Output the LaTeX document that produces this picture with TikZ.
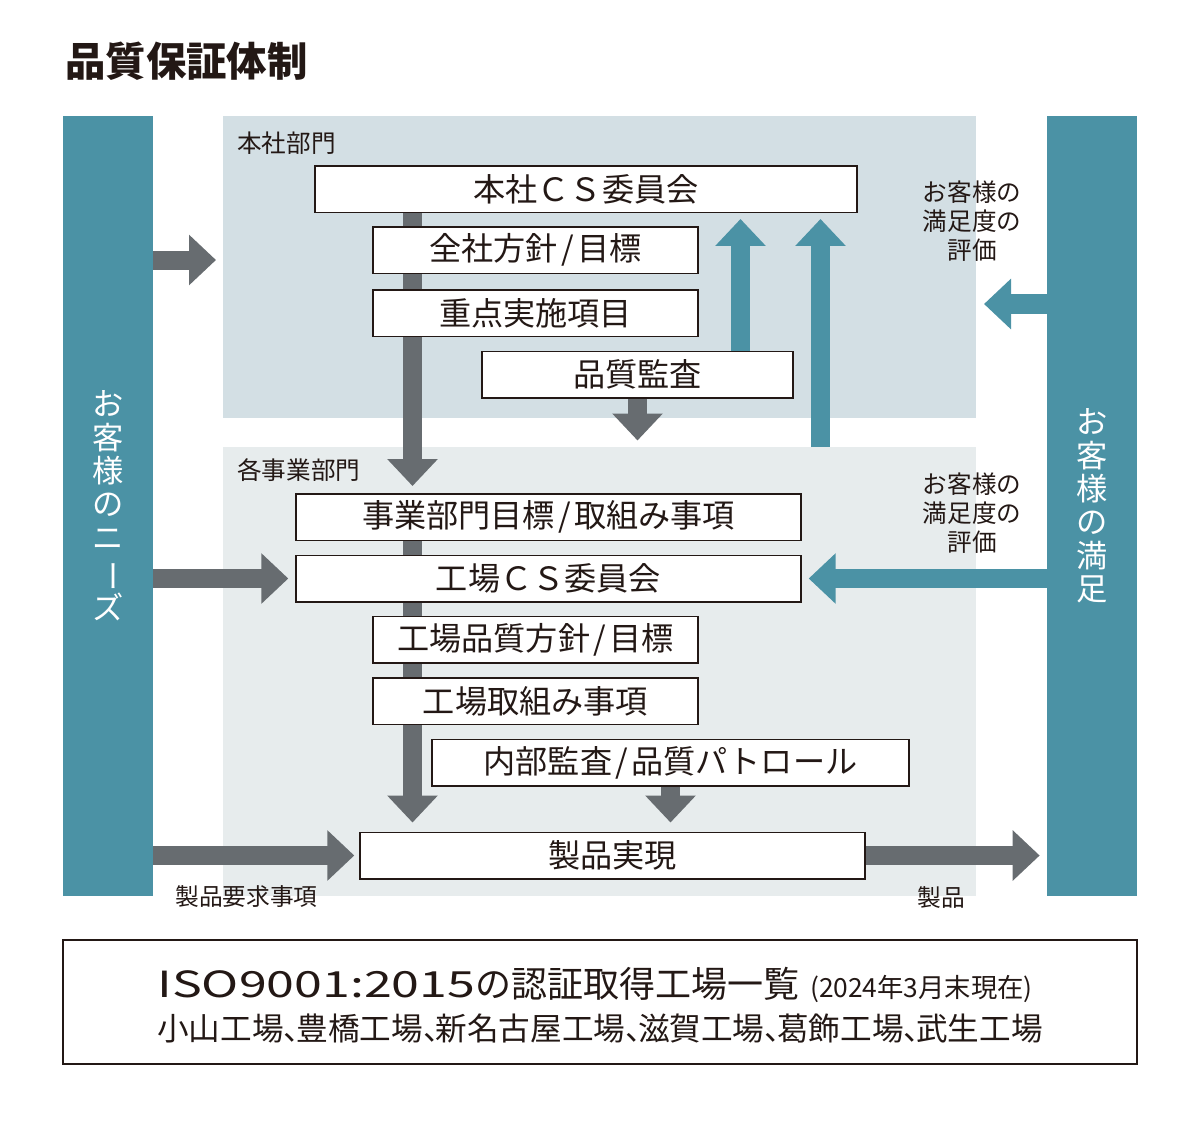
\documentclass[tikz,border=0pt]{standalone}
\usepackage{fontspec}
\usepackage{graphicx}
\setmainfont{Noto Sans CJK JP}
\usetikzlibrary{arrows.meta}
\definecolor{custblue}{HTML}{4B92A5}
\definecolor{arrgray}{HTML}{676C70}
\definecolor{bandtop}{HTML}{D3DFE4}
\definecolor{bandbot}{HTML}{E7ECED}
\definecolor{ink}{HTML}{231815}
\pgfdeclarelayer{bands}
\pgfdeclarelayer{flows}
\pgfsetlayers{bands,flows,main}
\newcommand{\tou}{、\kern-.6em}
\begin{document}
\begin{tikzpicture}[x=0.02cm, y=-0.02cm, every node/.style={text=ink, inner sep=0pt},
	box/.style={draw=ink, line width=0.85pt, fill=white, minimum height=0.93cm, font=\fontsize{18.3}{20}\selectfont},
	bar/.style={fill=custblue, minimum width=1.8cm, minimum height=15.6cm, text=white, align=center, font=\fontsize{17.8}{19}\selectfont},
	band/.style={anchor=north west, minimum width=15.06cm},
	small/.style={font=\fontsize{14}{16.7}\selectfont},
	grayflow/.style={draw=arrgray, line width=0.38cm, -{Triangle[width=0.98cm, length=0.54cm]}},
	blueflow/.style={draw=custblue, line width=0.39cm, -{Triangle[width=0.98cm, length=0.54cm]}}]
		
		\useasboundingbox (0,0) rectangle (1200,1123);
		
		\node[anchor=base west, font=\fontsize{23}{26}\selectfont\bfseries] (title) at (65,76) {品質保証体制};
		
		\node[bar] (needs) at (108,506) {お\\客\\様\\の\\ニ\\\rotatebox[origin=c]{-90}{ー}\\ズ};
		\node[bar] (satisfied) at (1092,506) {お\\客\\様\\の\\満\\足};
		
		\node[small, anchor=west] (hqlabel) at (237,143) {本社部門};
		\node[small, anchor=west] (divlabel) at (237,470) {各事業部門};
		
		\node[box, minimum width=10.84cm] (hqcs) at (586,189) {本社ＣＳ委員会};
		\node[box, minimum width=6.5cm] (policy) at (535.5,250) {全社方針\kern.1em/\kern.1em目標};
		\node[box, minimum width=6.5cm] (focus) at (535.5,313) {重点実施項目};
		\node[box, minimum width=6.22cm] (audit) at (637.5,374.5) {品質監査};
		
		\node[box, minimum width=10.1cm] (divgoal) at (548.5,517) {事業部門目標\kern.1em/\kern.1em取組み事項};
		\node[box, minimum width=10.1cm] (plantcs) at (548.5,578.5) {工場ＣＳ委員会};
		\node[box, minimum width=6.5cm] (plantpolicy) at (535.5,639.5) {工場品質方針\kern.1em/\kern.1em目標};
		\node[box, minimum width=6.5cm] (plantaction) at (535.5,701) {工場取組み事項};
		\node[box, minimum width=9.54cm] (internal) at (670.5,762.5) {内部監査\kern.1em/\kern.1em品質パトロール};
		\node[box, minimum width=10.1cm] (product) at (612.5,855.5) {製品実現};
		
		\foreach \y/\nm in {221/evalhq, 513/evaldiv}
			\node[small, align=center] (\nm) at (972,\y) {お客様の\\満足度の\\評価};
		
		\node[small, anchor=west, font=\fontsize{13.5}{15}\selectfont] (reqlabel) at (175,897) {製品要求事項};
		\node[small, font=\fontsize{13.5}{15}\selectfont] (prodlabel) at (941,897) {製品};
		
		\node[draw=ink, line width=0.85pt, minimum width=21.48cm, minimum height=2.48cm] (isobox) at (600,1002) {};
		\node[anchor=base west, font=\fontsize{20.5}{24}\selectfont] (isotitle) at (157,997)
			{\scalebox{1.39}[1]{ISO9001:2015}の認証取得工場一覧\kern.3em{\fontsize{15}{17}\selectfont(2024年3月末現在)}};
		\node[anchor=base west, font=\fontsize{18}{22}\selectfont] (plants) at (157,1040)
			{小山工場\tou 豊橋工場\tou 新名古屋工場\tou 滋賀工場\tou 葛飾工場\tou 武生工場};
		
		\begin{pgfonlayer}{bands}
			\node[band, fill=bandtop, minimum height=6.04cm] (hq) at (223,116) {};
			\node[band, fill=bandbot, minimum height=8.98cm] (div) at (223,447) {};
		\end{pgfonlayer}
		
		\begin{pgfonlayer}{flows}
			\coordinate (spine) at (412.5,0);
			\coordinate (auditup) at (740.5,0);
			\coordinate (divup) at (820.5,0);
			\coordinate (hqin) at (216,260);
			\coordinate (hqfb) at (984,304);
			
			\draw[grayflow, shorten >=0.14cm] (hqcs.south -| spine) -- (divgoal.north -| spine);
			\draw[grayflow, shorten >=0.18cm] (divgoal.north -| spine) -- (product.north -| spine);
			\draw[grayflow] (audit.south) -- ++(0,42);
			\draw[grayflow, shorten >=0.18cm] (internal.south) -- (internal.south |- product.north);
			\draw[blueflow, shorten >=0.12cm] (audit.north -| auditup) -- (hqcs.south -| auditup);
			\draw[blueflow, shorten >=0.12cm] (div.north -| divup) -- (hqcs.south -| divup);
			
			\draw[grayflow] (needs.east |- hqin) -- (hqin);
			\draw[grayflow, shorten >=0.14cm] (needs.east |- plantcs.west) -- (plantcs.west);
			\draw[grayflow, shorten >=0.1cm] (needs.east |- product.west) -- (product.west);
			\draw[grayflow, shorten >=0.14cm] (product.east) -- (satisfied.west |- product.east);
			\draw[blueflow] (satisfied.west |- hqfb) -- (hqfb);
			\draw[blueflow, shorten >=0.14cm] (satisfied.west |- plantcs.east) -- (plantcs.east);
		\end{pgfonlayer}
		
	\end{tikzpicture}
\end{document}
